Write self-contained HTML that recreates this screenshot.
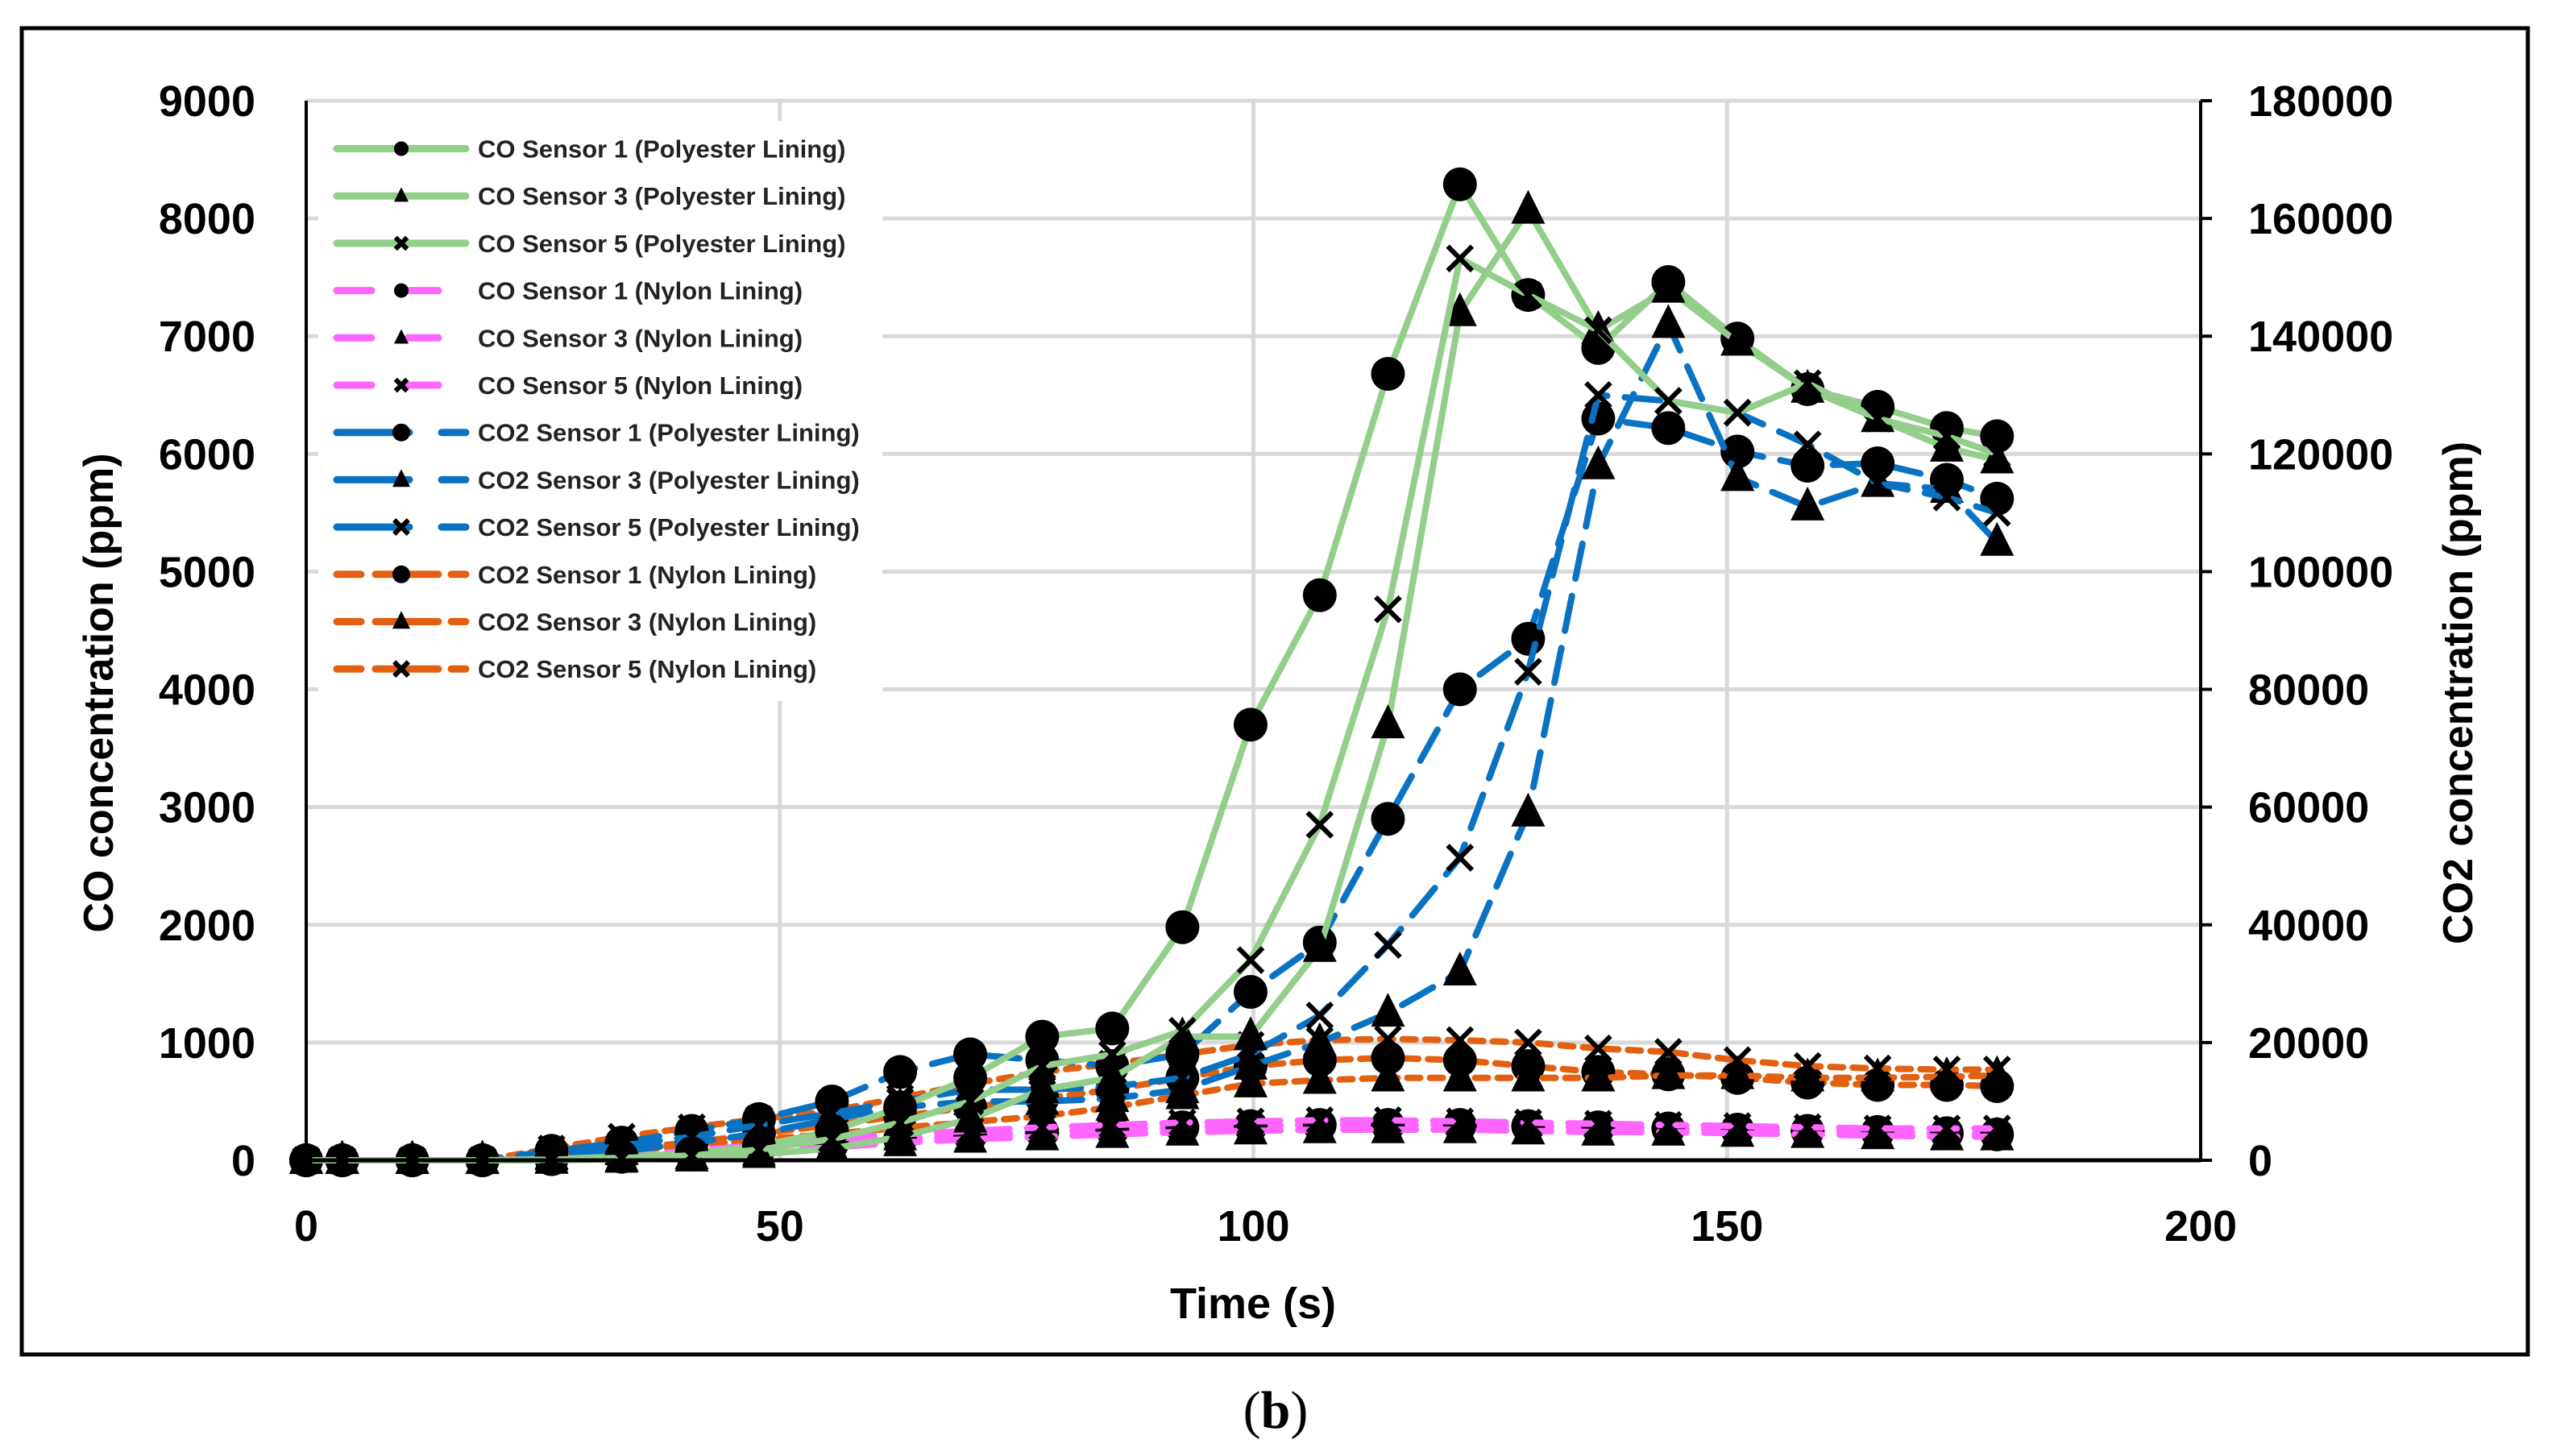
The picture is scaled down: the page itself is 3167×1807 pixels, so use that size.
<!DOCTYPE html>
<html><head><meta charset="utf-8"><style>
html,body{margin:0;padding:0;background:#fff;}
svg{display:block;}
text{font-family:"Liberation Sans",sans-serif;}
text.serif{font-family:"Liberation Serif",serif;}
</style></head><body>
<svg id="chart" width="3167" height="1807" viewBox="0 0 3167 1807" xmlns="http://www.w3.org/2000/svg">
<rect x="27" y="35" width="3110" height="1646" fill="#fff" stroke="#000" stroke-width="5"/>
<g id="grid"></g>
<g id="series"></g>
<g id="axes"></g>
<g id="legend"></g>
<text x="1555" y="1636" font-size="54" font-weight="bold" text-anchor="middle">Time (s)</text>
<text transform="translate(140,860) rotate(-90)" font-size="52" font-weight="bold" text-anchor="middle">CO concentration (ppm)</text>
<text transform="translate(3068,860) rotate(-90)" font-size="52" font-weight="bold" text-anchor="middle">CO2 concentration (ppm)</text>
<text class="serif" x="1583" y="1772" font-size="66" text-anchor="middle">(<tspan font-weight="bold">b</tspan>)</text>
</svg>
<script>
const times=[0,3.8,11.2,18.6,25.9,33.3,40.7,47.8,55.5,62.7,70.1,77.7,85.1,92.5,99.7,107,114.2,121.8,129,136.4,143.8,151.1,158.5,165.9,173.2,178.5];
const coPoly1=[0,0,0,0,10,30,60,120,250,450,700,1050,1120,1980,3700,4800,6680,8290,7350,6900,7460,6980,6550,6400,6220,6150];
const coPoly3=[0,0,0,0,0,10,20,50,100,200,350,600,700,1050,1050,1800,3700,7200,8070,7050,7400,6950,6550,6300,6050,5950];
const coPoly5=[0,0,0,0,5,20,40,90,180,320,500,800,900,1100,1700,2850,4680,7660,7350,7050,6450,6350,6600,6300,6150,6000];
const coNylon1=[0,0,0,0,10,30,60,100,140,180,210,240,260,280,290,300,300,300,290,280,270,260,250,240,230,220];
const coNylon3=[0,0,0,0,5,20,40,70,110,150,180,200,220,240,250,260,260,260,250,240,240,230,220,210,200,200];
const coNylon5=[0,0,0,0,15,40,80,130,180,220,250,280,300,320,330,340,340,330,320,310,300,290,280,270,270,270];
const co2Poly1=[0,0,0,0,1600,3000,5000,7000,10000,15000,18000,17000,16000,18000,28600,37000,58000,80000,88600,126000,124400,120400,118000,118400,115600,112400];
const co2Poly3=[0,0,0,0,600,1500,3000,4500,7000,9000,10000,10000,10500,12000,16000,20000,25000,32000,59000,118000,142000,116000,111000,115000,114000,105000];
const co2Poly5=[0,0,0,0,1000,2500,4000,6000,8000,10000,12000,12000,12500,14000,18000,24600,36600,51400,83000,130000,129000,127000,121600,115000,112600,110000];
const co2Nylon1=[0,0,0,0,1000,2000,3000,4500,6000,7500,9000,10500,12000,14000,16000,17000,17400,17000,16000,15000,14600,14000,13200,12800,12800,12600];
const co2Nylon3=[0,0,0,0,800,1600,2500,3500,4500,5500,6500,7500,9000,11000,13000,13600,14000,14000,14000,14000,14400,14400,14000,14000,14200,14400];
const co2Nylon5=[0,0,0,0,2000,4000,5600,7000,8400,10600,13000,15000,16400,18000,19600,20400,20600,20400,20000,19000,18400,17000,16000,15600,15400,15400];
const xTicks=[0,50,100,150,200];
const leftTicks=[0,1000,2000,3000,4000,5000,6000,7000,8000,9000];
const rightTicks=[0,20000,40000,60000,80000,100000,120000,140000,160000,180000];
const legendLabels=["CO Sensor 1 (Polyester Lining)","CO Sensor 3 (Polyester Lining)","CO Sensor 5 (Polyester Lining)","CO Sensor 1 (Nylon Lining)","CO Sensor 3 (Nylon Lining)","CO Sensor 5 (Nylon Lining)","CO2 Sensor 1 (Polyester Lining)","CO2 Sensor 3 (Polyester Lining)","CO2 Sensor 5 (Polyester Lining)","CO2 Sensor 1 (Nylon Lining)","CO2 Sensor 3 (Nylon Lining)","CO2 Sensor 5 (Nylon Lining)"];

const NS="http://www.w3.org/2000/svg";
const X0=380,X1=2731,Y0=1440,Y1=125;
const xs=t=>X0+(t/200)*(X1-X0);
const yl=v=>Y0-(v/9000)*(Y0-Y1);
const yr=v=>Y0-(v/180000)*(Y0-Y1);
function mk(tag,attrs,parent){const e=document.createElementNS(NS,tag);for(const k in attrs)e.setAttribute(k,attrs[k]);parent.appendChild(e);return e;}
const grid=document.getElementById('grid'),axes=document.getElementById('axes'),ser=document.getElementById('series'),leg=document.getElementById('legend');

leftTicks.forEach((v,i)=>{
  if(i>0){const g=mk('line',{x1:X0,x2:X1,y1:yl(v),y2:yl(v),stroke:'#d9d9d9','stroke-width':5},grid);
  
  }
  const t=mk('text',{x:317,y:yl(v)+19,'font-size':54,'font-weight':'bold','text-anchor':'end'},axes);t.textContent=v;
  
  
});
rightTicks.forEach(v=>{
  const t=mk('text',{x:2790,y:yr(v)+19,'font-size':54,'font-weight':'bold'},axes);t.textContent=v;
  
  
  const tk=mk('line',{x1:X1,x2:X1+14,y1:yr(v),y2:yr(v),stroke:'#000','stroke-width':4},axes);
  
  
});
xTicks.forEach(v=>{
  if(v>0&&v<200){const g=mk('line',{x1:xs(v),x2:xs(v),y1:Y1,y2:Y0,stroke:'#d9d9d9','stroke-width':5},grid);
  
  }
  const t=mk('text',{x:xs(v),y:1540,'font-size':54,'font-weight':'bold','text-anchor':'middle'},axes);t.textContent=v;
  
  
});
const la=mk('line',{x1:X0,x2:X0,y1:Y1,y2:Y0,stroke:'#000','stroke-width':4},axes);


const ra=mk('line',{x1:X1,x2:X1,y1:Y1,y2:Y0,stroke:'#000','stroke-width':4},axes);


const xa=mk('line',{x1:X0,x2:X1,y1:Y0,y2:Y0,stroke:'#000','stroke-width':5},axes);



function marker(type,x,y,r,parent){
  if(type==='c') return mk('circle',{cx:x,cy:y,r:r,fill:'#000'},parent);
  if(type==='t') return mk('path',{d:`M${x},${y-r*1.2} L${x+r},${y+r*0.8} L${x-r},${y+r*0.8}Z`,fill:'#000'},parent);
  return mk('path',{d:`M${x-r*0.8},${y-r*0.8} L${x+r*0.8},${y+r*0.8} M${x+r*0.8},${y-r*0.8} L${x-r*0.8},${y+r*0.8}`,stroke:'#000','stroke-width':6,fill:'none'},parent);
}
const G='#93cf8a',P='#ff66ff',B='#0a72c2',O='#e2600f';
const series=[
 {d:co2Nylon1,ax:yr,c:O,dash:'16 12',m:'c',name:'co2-nylon-sensor-1'},
 {d:co2Nylon3,ax:yr,c:O,dash:'16 12',m:'t',name:'co2-nylon-sensor-3'},
 {d:co2Nylon5,ax:yr,c:O,dash:'16 12',m:'x',name:'co2-nylon-sensor-5'},
 {d:coNylon1,ax:yl,c:P,dash:'34 22',m:'c',name:'co-nylon-sensor-1'},
 {d:coNylon3,ax:yl,c:P,dash:'34 22',m:'t',name:'co-nylon-sensor-3'},
 {d:coNylon5,ax:yl,c:P,dash:'34 22',m:'x',name:'co-nylon-sensor-5'},
 {d:co2Poly1,ax:yr,c:B,dash:'44 22',m:'c',name:'co2-polyester-sensor-1'},
 {d:co2Poly3,ax:yr,c:B,dash:'44 22',m:'t',name:'co2-polyester-sensor-3'},
 {d:co2Poly5,ax:yr,c:B,dash:'44 22',m:'x',name:'co2-polyester-sensor-5'},
 {d:coPoly1,ax:yl,c:G,dash:'',m:'c',name:'co-polyester-sensor-1'},
 {d:coPoly3,ax:yl,c:G,dash:'',m:'t',name:'co-polyester-sensor-3'},
 {d:coPoly5,ax:yl,c:G,dash:'',m:'x',name:'co-polyester-sensor-5'}
];
series.forEach(s=>{
  const g=mk('g',{},ser);
  
  
  const pts=s.d.map((v,i)=>xs(times[i])+','+s.ax(v)).join(' ');
  const a={points:pts,fill:'none',stroke:s.c,'stroke-width':8,'stroke-linejoin':'round','stroke-linecap':'round'};
  if(s.dash)a['stroke-dasharray']=s.dash;
  const pl=mk('polyline',a,g);
  
  
  s.d.forEach((v,i)=>{
    const m=marker(s.m,xs(times[i]),s.ax(v),s.m==='x'?19:21,g);
    
    
  });
});

const lb=mk('rect',{x:395,y:150,width:700,height:720,fill:'#fff'},leg);


const legOrder=[9,10,11,3,4,5,6,7,8,0,1,2];
legendLabels.forEach((lab,i)=>{
  const s=series[legOrder[i]];
  const y=184.5+i*58.7;
  const g=mk('g',{},leg);
  
  
  let segs;
  if(i<3) segs=[[418,578]];
  else if(i<6) segs=[[418,461],[506,544]];
  else if(i<9) segs=[[418,508],[548,578]];
  else segs=[[418,448],[466,544],[560,578]];
  segs.forEach(sg=>mk('line',{x1:sg[0],x2:sg[1],y1:y,y2:y,stroke:s.c,'stroke-width':9,'stroke-linecap':'round'},g));
  const small=(i<6);
  marker(s.m,498,y,small?9:11,g);
  const t=mk('text',{x:593,y:y+11,'font-size':31,'font-weight':'bold',fill:'#222'},g);t.textContent=lab;
});
</script>
</body></html>
